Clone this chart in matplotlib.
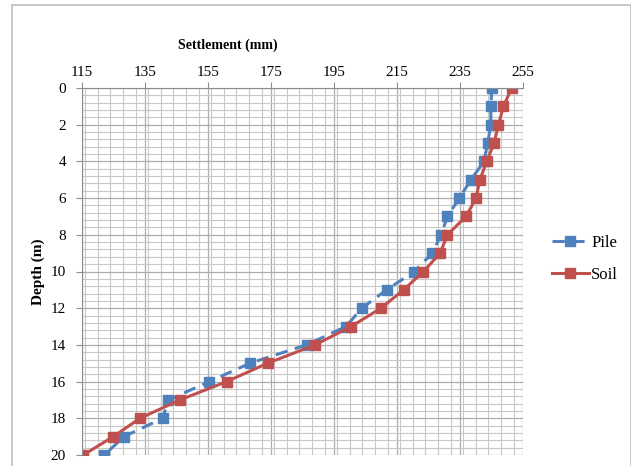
import matplotlib
matplotlib.use("Agg")
import matplotlib.pyplot as plt
from matplotlib.ticker import MultipleLocator
from matplotlib.patches import Rectangle

depth = [0, 1, 2, 3, 4, 5, 6, 7, 8, 9, 10, 11, 12, 13, 14, 15, 16, 17, 18, 19, 20]
pile = [245.1, 244.8, 244.8, 243.8, 242.6, 238.5, 234.8, 231.0, 229.0, 226.2, 220.5,
        211.7, 203.8, 198.8, 186.3, 168.3, 155.4, 142.4, 140.6, 128.3, 122.1]
soil = [251.4, 248.8, 247.2, 245.8, 243.5, 241.3, 240.1, 236.9, 231.0, 228.7, 223.4,
        217.1, 209.9, 200.4, 189.0, 173.9, 160.9, 146.1, 133.4, 124.9, 115.4]
xticks = [115, 135, 155, 175, 195, 215, 235, 255]
yticks = [0, 2, 4, 6, 8, 10, 12, 14, 16, 18, 20]

plt.rcParams['font.family'] = ['Liberation Serif', 'DejaVu Serif']

W, H = 631, 466
fig = plt.figure(figsize=(W / 100, H / 100), dpi=100)

# chart border
fig.patches.append(Rectangle((12 / W, -0.05), (630.5 - 12) / W, 1.05 - 5 / H,
                             transform=fig.transFigure, fill=False,
                             edgecolor='#bdbdbd', linewidth=1.2))

left, right, top, bottom = 82, 523, 88, 455
ax = fig.add_axes([left / W, 1 - bottom / H, (right - left) / W, (bottom - top) / H])

ax.set_xlim(115, 255)
ax.set_ylim(20, 0)
ax.xaxis.tick_top()
ax.set_xticks(xticks)
ax.set_yticks(yticks)
ax.xaxis.set_minor_locator(MultipleLocator(4))
ax.yaxis.set_minor_locator(MultipleLocator(0.4))
ax.grid(True, which='major', color='#adadad', linewidth=0.9)
ax.grid(True, which='minor', color='#c8c8c8', linewidth=0.8)
ax.set_axisbelow(True)
for s in ['right', 'bottom']:
    ax.spines[s].set_visible(False)
for s in ['top', 'left']:
    ax.spines[s].set_color('#8c8c8c')
ax.tick_params(which='major', direction='out', length=4.5, color='#8c8c8c',
               labelsize=11)
ax.tick_params(which='minor', length=0)
ax.tick_params(axis='x', pad=2)
ax.tick_params(axis='y', pad=7)

ax.plot(pile, depth, color='#4F81BD', linestyle=(0, (4, 2.5)), linewidth=2.2,
        marker='s', markersize=6.5, label='Pile')
ax.plot(soil, depth, color='#C0504D', linestyle='-', linewidth=2.2,
        marker='s', markersize=6.5, label='Soil')

fig.text(228 / W, 1 - 45 / H, 'Settlement (mm)', ha='center', va='center',
         fontsize=10, fontweight='bold')
fig.text(38 / W, 1 - 272 / H, 'Depth (m)', ha='center', va='center',
         rotation=90, fontsize=11, fontweight='bold')

leg = ax.legend(loc='center left', bbox_to_anchor=(537 / W, 1 - 259 / H),
                bbox_transform=fig.transFigure, frameon=False, fontsize=12,
                handlelength=2.2, handletextpad=0.15, labelspacing=0.95)

fig.savefig('out.png', dpi=100)
